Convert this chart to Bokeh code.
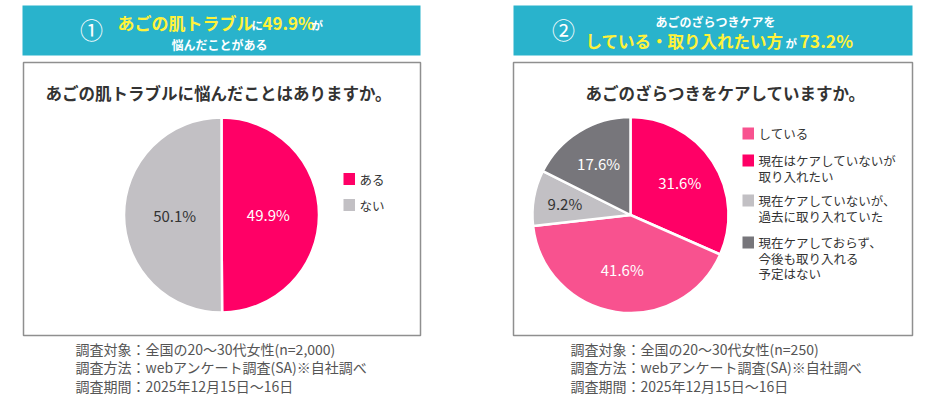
import numpy as np
from bokeh.plotting import figure
from bokeh.models import ColumnDataSource, Range1d
from bokeh.embed import file_html
from bokeh.resources import INLINE
from bokeh.core.properties import value

W, H = 938, 400
FONT = "Noto Sans CJK JP"

# ---------------- data ----------------
q1_title = "あごの肌トラブルに悩んだことはありますか。"
q1_labels = ["ある", "ない"]
q1_values = [49.9, 50.1]

q2_title = "あごのざらつきをケアしていますか。"
q2_labels = ["している",
             "現在はケアしていないが\n取り入れたい",
             "現在ケアしていないが、\n過去に取り入れていた",
             "現在ケアしておらず、\n今後も取り入れる\n予定はない"]
q2_values = [41.6, 31.6, 9.2, 17.6]
q2_pie_order = [1, 0, 2, 3]   # clockwise from 12 o'clock

notes1 = ["調査対象：全国の20～30代女性(n=2,000)",
          "調査方法：webアンケート調査(SA)※自社調べ",
          "調査期間：2025年12月15日～16日"]
notes2 = ["調査対象：全国の20～30代女性(n=250)",
          "調査方法：webアンケート調査(SA)※自社調べ",
          "調査期間：2025年12月15日～16日"]

# ---------------- styles ----------------
PINK = "#FF0066"
LPINK = "#F8528F"
LGREY = "#C2C0C4"
DGREY = "#77767B"
TEAL = "#29B3CC"
YELLOW = "#FFF23A"
q1_colors = [PINK, LGREY]
q1_label_colors = ["white", "#333333"]
q1_label_rf = [0.48, 0.48]
q2_colors = [LPINK, PINK, LGREY, DGREY]
q2_label_colors = ["white", "white", "#333333", "white"]
q2_label_rf = [0.56, 0.6, 0.68, 0.62]   # per slice, same order as q2_values

p = figure(width=W, height=H, x_range=Range1d(0, W), y_range=Range1d(0, H),
           output_backend="svg", toolbar_location=None, min_border=0,
           x_axis_location=None, y_axis_location=None)
p.grid.visible = False
p.outline_line_color = None
p.background_fill_color = "white"
p.border_fill_color = "white"


def sy(y):
    return H - y


def txt(x, y, s, size, color, align="left", bold=False):
    p.text(x=[x], y=[sy(y)], text=[s], text_font=value(FONT),
           text_font_size=f"{size}px", text_color=color, text_align=align,
           text_baseline="middle", text_font_style="bold" if bold else "normal")


def banner(x0, x1):
    p.quad(left=[x0], right=[x1], top=[sy(5)], bottom=[sy(55)],
           fill_color=TEAL, line_color=None)


def box(x0, x1):
    p.quad(left=[x0], right=[x1], top=[sy(62)], bottom=[sy(335)],
           fill_color="white", line_color="#8F8F8F", line_width=1.5)


def pie(cx, cy, r, values, colors, label_colors, rf):
    v = np.array(values, float)
    frac = v / v.sum()
    cum = np.concatenate([[0.0], np.cumsum(frac)])
    start = np.pi / 2 - 2 * np.pi * cum[:-1]
    end = np.pi / 2 - 2 * np.pi * cum[1:]
    src = ColumnDataSource(dict(start=start, end=end, color=colors))
    p.wedge(x=cx, y=sy(cy), radius=r, start_angle="start", end_angle="end",
            direction="clock", fill_color="color", line_color="white",
            line_width=2.5, source=src)
    mid = (start + end) / 2
    rf = np.array(rf)
    lsrc = ColumnDataSource(dict(
        x=cx + rf * r * np.cos(mid), y=sy(cy) + rf * r * np.sin(mid),
        t=[f"{x:.1f}%" for x in values], c=label_colors))
    p.text(x="x", y="y", text="t", text_color="c", source=lsrc,
           text_font=value(FONT), text_font_size="15px", text_align="center",
           text_baseline="middle")


def legend(x, ys, labels, colors, line_h=15.5):
    for y, lab, col in zip(ys, labels, colors):
        p.quad(left=[x], right=[x + 11.5], top=[sy(y - 6)], bottom=[sy(y + 6)],
               fill_color=col, line_color=None)
        for k, line in enumerate(lab.split("\n")):
            txt(x + 16, y + k * line_h, line, 12.5, "#333333")


# ---------------- panel 1 ----------------
banner(22, 420)
txt(91, 28, "①", 23, "white", align="center")
txt(117, 22, "あごの肌トラブル", 17, YELLOW, bold=True)
txt(251, 24, "に", 11.5, "white", bold=True)
txt(262, 22, f"{q1_values[0]:.1f}%", 17, YELLOW, bold=True)
txt(311, 24, "が", 11.5, "white", bold=True)
txt(219, 44, "悩んだことがある", 12, "white", align="center", bold=True)

box(23, 420)
txt(218, 92, q1_title, 16.5, "#333333", align="center", bold=True)
pie(221, 214.5, 97.5, q1_values, q1_colors, q1_label_colors, q1_label_rf)
legend(343, [178.5, 204.5], q1_labels, q1_colors)
for i, n in enumerate(notes1):
    txt(75, 348 + i * 18.5, n, 14, "#555555")

# ---------------- panel 2 ----------------
banner(513, 912)
txt(563, 28, "②", 23, "white", align="center")
txt(715, 21, "あごのざらつきケアを", 12, "white", align="center", bold=True)
txt(585, 40, "している・取り入れたい方", 16.5, YELLOW, bold=True)
txt(785, 42, "が", 11.5, "white", bold=True)
txt(799, 40, f"{q2_values[0] + q2_values[1]:.1f}%", 17.5, YELLOW, bold=True)

box(513, 912)
txt(725, 92, q2_title, 16.5, "#333333", align="center", bold=True)
order = q2_pie_order
pie(630, 214.5, 98, [q2_values[i] for i in order], [q2_colors[i] for i in order],
    [q2_label_colors[i] for i in order], [q2_label_rf[i] for i in order])
legend(742, [133, 160, 200, 242], q2_labels, q2_colors)
for i, n in enumerate(notes2):
    txt(570, 348 + i * 18.5, n, 14, "#555555")

open("out.html", "w").write(file_html(p, INLINE))
